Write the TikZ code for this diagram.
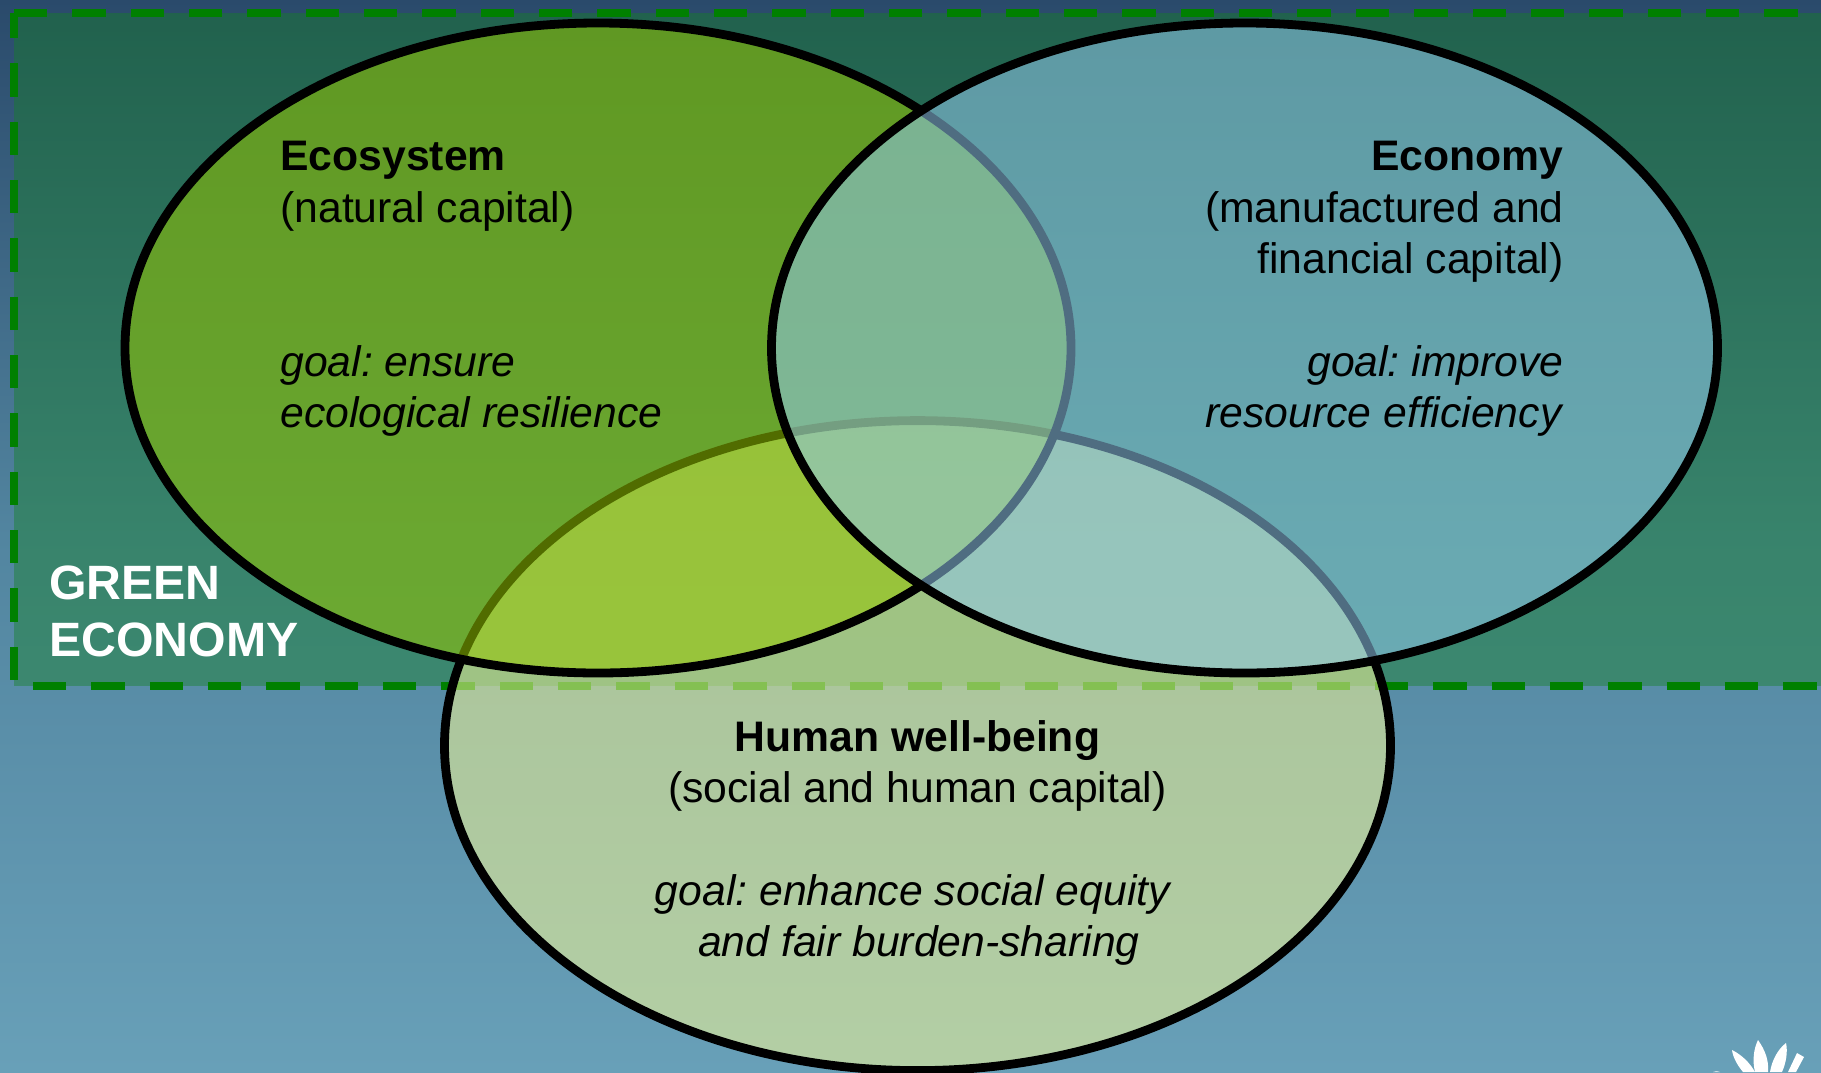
\documentclass[tikz,border=0pt]{standalone}
\usepackage{fontspec}
\setmainfont{Liberation Sans}
\definecolor{skyTop}{RGB}{42,74,107}
\definecolor{skyMiddle}{RGB}{82,133,160}
\definecolor{skyBottom}{RGB}{104,160,184}
\definecolor{zoneGreen}{RGB}{20,130,34}
\definecolor{dashGreen}{RGB}{0,128,0}
\definecolor{humanFill}{RGB}{242,246,150}
\definecolor{ecoFill}{RGB}{148,197,0}
\definecolor{econFill}{RGB}{145,200,235}

\begin{document}
\begin{tikzpicture}
[x=0.5pt,y=-0.5pt,%
  circleDecorate/.style={draw=black,line width=4.4pt,fill opacity=0.55},
  dashDecorate/.style={draw=dashGreen,line width=4.2pt,dash pattern=on 16.67pt off 12.5pt},
  labelDecorate/.style={inner sep=0pt,font=\frenchspacing\fontsize{21.35}{25.7}\selectfont},
  zoneDecorate/.style={inner sep=0pt,text=white,align=left,anchor=north west,
    font=\fontsize{24.1}{28.5}\selectfont\bfseries}]
\useasboundingbox (0,0) rectangle (1821,1072);
\clip (0,0) rectangle (1821,1072);
%% background and green economy zone
\shade[top color=skyTop,bottom color=skyBottom,middle color=skyMiddle] (0,0) rectangle (1821,1072);
\fill[zoneGreen,fill opacity=0.41] (14,13) rectangle (1830,686);
\draw[dashDecorate] (14,13) -- (1830,13);
\draw[dashDecorate,dash phase=4pt] (14,13) -- (14,686) -- (1830,686);
%% the three ellipses, later ones lie over earlier ones
\foreach \cx/\cy/\fillname in {
  917.5/745.6/humanFill,
  598/348/ecoFill,
  1244.5/348/econFill}
{
  \draw[circleDecorate,fill=\fillname] (\cx,\cy) ellipse [x radius=473,y radius=325];
}
%% petals of the logo in the corner
\fill[white] (1755,1072) .. controls (1752,1060) and (1754,1048) .. (1758,1040)
  .. controls (1765,1050) and (1769,1060) .. (1768,1072) -- cycle;
\fill[white] (1743,1072) .. controls (1738,1066) and (1733,1058) .. (1732,1050)
  .. controls (1742,1055) and (1750,1063) .. (1755,1072) -- cycle;
\fill[white] (1770,1072) .. controls (1772,1060) and (1778,1049) .. (1786,1043)
  .. controls (1788,1052) and (1786,1063) .. (1782,1072) -- cycle;
\fill[white] (1788,1072) -- (1797,1053) -- (1804,1057) -- (1796,1072) -- cycle;
\fill[white] (1713,1072) .. controls (1715,1071) and (1718,1071) .. (1720,1072) -- cycle;
%% labels
\node (ecosystemLabel) at (280,141) [labelDecorate,anchor=north west,align=left] {%
  \textbf{Ecosystem}\\(natural capital)\\[51.4pt]\textit{goal: ensure}\\\textit{ecological resilience}};
\node (economyLabel) at (1564,141) [labelDecorate,anchor=north east,align=right] {%
  \textbf{Economy}\\(manufactured and\\financial capital)\\[25.7pt]\textit{goal: improve}\\\textit{resource efficiency}};
\node (humanLabel) at (917.5,720) [labelDecorate,anchor=north,align=center] {%
  \textbf{Human well-being}\\(social and human capital)\\[25.7pt]\textit{goal: enhance social equity}\kern4pt\\\hspace*{1.5pt}\textit{and fair burden-sharing}};
\node (zoneLabel) at (49,565) [zoneDecorate] {GREEN\\ECONOMY};
\end{tikzpicture}
\end{document}
